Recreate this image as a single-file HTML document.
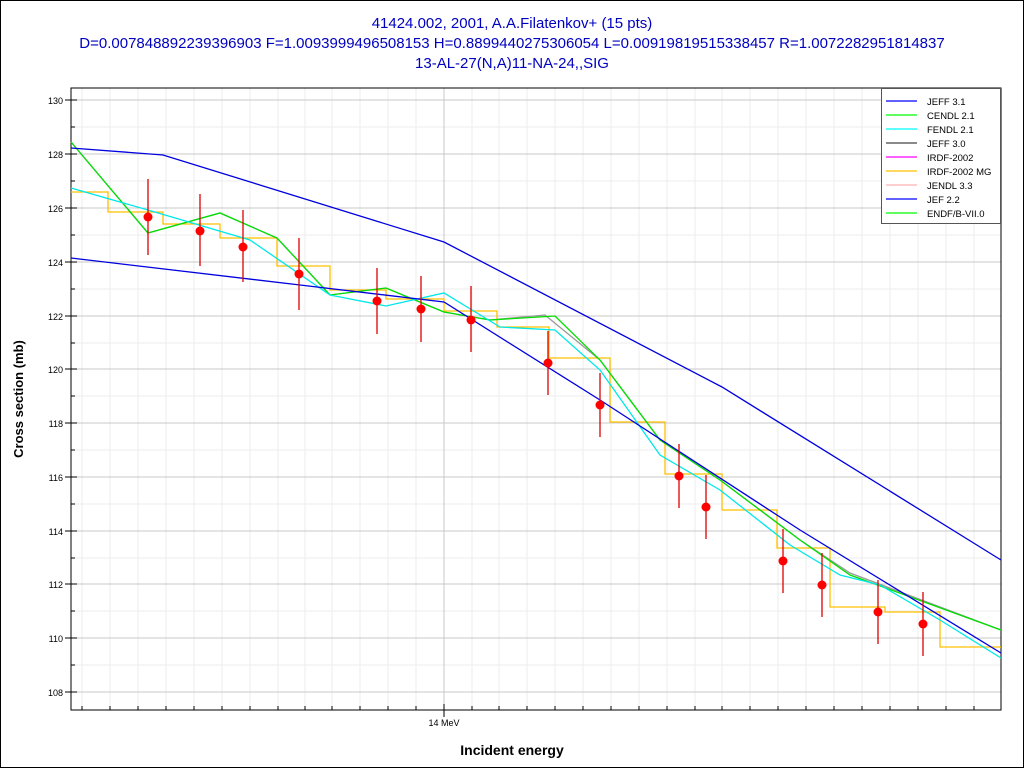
<!DOCTYPE html>
<html><head><style>body{margin:0;background:#fff}svg{display:block}</style></head><body>
<svg width="1024" height="768" xmlns="http://www.w3.org/2000/svg" font-family="Liberation Sans, sans-serif">
<rect x="0.5" y="0.5" width="1023" height="767" fill="#fff" stroke="#000"/>
<g fill="#0000c0" font-size="15" text-anchor="middle">
<text x="512" y="28">41424.002, 2001, A.A.Filatenkov+ (15 pts)</text>
<text x="512" y="48">D=0.007848892239396903 F=1.0093999496508153 H=0.8899440275306054 L=0.00919819515338457 R=1.0072282951814837</text>
<text x="512" y="68">13-AL-27(N,A)11-NA-24,,SIG</text>
</g>
<g stroke="#eee">
<path d="M82 88V710M110 88V710M138 88V710M166 88V710M194 88V710M222 88V710M250 88V710M278 88V710M305 88V710M332 88V710M360 88V710M388 88V710M416 88V710M472 88V710M499 88V710M527 88V710M555 88V710M583 88V710M611 88V710M639 88V710M667 88V710M695 88V710M722 88V710M750 88V710M778 88V710M806 88V710M834 88V710M862 88V710M890 88V710M918 88V710M946 88V710M974 88V710"/>
<path d="M71 127H1001M71 181H1001M71 235H1001M71 289H1001M71 343H1001M71 396H1001M71 450H1001M71 504H1001M71 558H1001M71 611H1001M71 665H1001"/>
</g>
<g stroke="#c8c8c8">
<path d="M444 88V710"/>
<path d="M71 100H1001M71 154H1001M71 208H1001M71 262H1001M71 316H1001M71 369H1001M71 423H1001M71 477H1001M71 531H1001M71 584H1001M71 638H1001M71 692H1001"/>
</g>
<rect x="71" y="88" width="930" height="622" fill="none" stroke="#000"/>
<g stroke="#000">
<path d="M65 100H77M65 154H77M65 208H77M65 262H77M65 316H77M65 369H77M65 423H77M65 477H77M65 531H77M65 584H77M65 638H77M65 692H77"/>
<path d="M71 127H75M71 181H75M71 235H75M71 289H75M71 343H75M71 396H75M71 450H75M71 504H75M71 558H75M71 611H75M71 665H75"/>
<path d="M82 706V710M110 706V710M138 706V710M166 706V710M194 706V710M222 706V710M250 706V710M278 706V710M305 706V710M332 706V710M360 706V710M388 706V710M416 706V710M444 704V717M472 706V710M499 706V710M527 706V710M555 706V710M583 706V710M611 706V710M639 706V710M667 706V710M695 706V710M722 706V710M750 706V710M778 706V710M806 706V710M834 706V710M862 706V710M890 706V710M918 706V710M946 706V710M974 706V710"/>
</g>
<g font-size="9" text-anchor="end">
<text x="63" y="104">130</text><text x="63" y="158">128</text><text x="63" y="212">126</text><text x="63" y="266">124</text><text x="63" y="320">122</text><text x="63" y="373">120</text><text x="63" y="427">118</text><text x="63" y="481">116</text><text x="63" y="535">114</text><text x="63" y="588">112</text><text x="63" y="642">110</text><text x="63" y="696">108</text>
</g>
<text x="444" y="726" font-size="9" text-anchor="middle">14 MeV</text>
<text x="512" y="755" font-size="14" font-weight="bold" text-anchor="middle">Incident energy</text>
<text transform="translate(23,399) rotate(-90)" font-size="13" font-weight="bold" text-anchor="middle">Cross section (mb)</text>
<g fill="none" stroke-width="1.3">
<polyline stroke="#ffc000" points="71,192 108,192 108,212 163,212 163,224 220,224 220,238 277,238 277,266 330,266 330,290 386,290 386,299 444,299 444,311 497,311 497,327 549,327 549,358 610,358 610,422 665,422 665,474 722,474 722,510 777,510 777,548 830,548 830,607 885,607 885,612 940,612 940,647 1001,647"/>
<polyline stroke="#999" points="71,142 148,233 220,213 277,238 330,295 386,288 444,312 490,320 545,315 600,360 660,440 720,480 800,540 850,573 1001,630"/>
<polyline stroke="#00e000" points="71,142 148,233 220,213 277,238 330,295 386,288 444,312 490,320 555,316 600,360 660,440 720,480 800,540 850,575 1001,630"/>
<polyline stroke="#00e8e8" points="71,188 148,210 250,240 330,295 386,306 444,293 500,327 555,330 600,370 660,455 720,490 790,545 840,575 880,585 940,620 1001,658"/>
<polyline stroke="#0000e0" points="71,148 163,155 444,242 722,387 1001,560"/>
<polyline stroke="#0000e0" points="71,258 300,285 444,302 600,400 800,530 1001,653"/>
</g>
<g stroke="#e00000" stroke-width="1.3">
<path d="M148 179V255M200 194V266M243 210V282M299 238V310M377 268V334M421 276V342M471 286V352M548 331V395M600 373V437M679 444V508M706 475V539M783 529V593M822 553V617M878 580V644M923 592V656"/>
</g>
<g fill="#ff0000">
<circle cx="148" cy="217" r="4.5"/><circle cx="200" cy="231" r="4.5"/><circle cx="243" cy="247" r="4.5"/><circle cx="299" cy="274" r="4.5"/><circle cx="377" cy="301" r="4.5"/><circle cx="421" cy="309" r="4.5"/><circle cx="471" cy="320" r="4.5"/><circle cx="548" cy="363" r="4.5"/><circle cx="600" cy="405" r="4.5"/><circle cx="679" cy="476" r="4.5"/><circle cx="706" cy="507" r="4.5"/><circle cx="783" cy="561" r="4.5"/><circle cx="822" cy="585" r="4.5"/><circle cx="878" cy="612" r="4.5"/><circle cx="923" cy="624" r="4.5"/>
</g>
<rect x="881.5" y="88.5" width="119" height="135" fill="#fff" stroke="#555"/>
<g stroke-width="1.3">
<path d="M886 101H917" stroke="#0000ff"/><path d="M886 115H917" stroke="#00ff00"/><path d="M886 129H917" stroke="#00ffff"/><path d="M886 143H917" stroke="#444"/><path d="M886 157H917" stroke="#ff00ff"/><path d="M886 171H917" stroke="#ffc000"/><path d="M886 185H917" stroke="#ffb0b0"/><path d="M886 199H917" stroke="#0000ff"/><path d="M886 213H917" stroke="#00ff00"/>
</g>
<g font-size="9.5">
<text x="927" y="105">JEFF 3.1</text><text x="927" y="119">CENDL 2.1</text><text x="927" y="133">FENDL 2.1</text><text x="927" y="147">JEFF 3.0</text><text x="927" y="161">IRDF-2002</text><text x="927" y="175">IRDF-2002 MG</text><text x="927" y="189">JENDL 3.3</text><text x="927" y="203">JEF 2.2</text><text x="927" y="217">ENDF/B-VII.0</text>
</g>
</svg>
</body></html>
